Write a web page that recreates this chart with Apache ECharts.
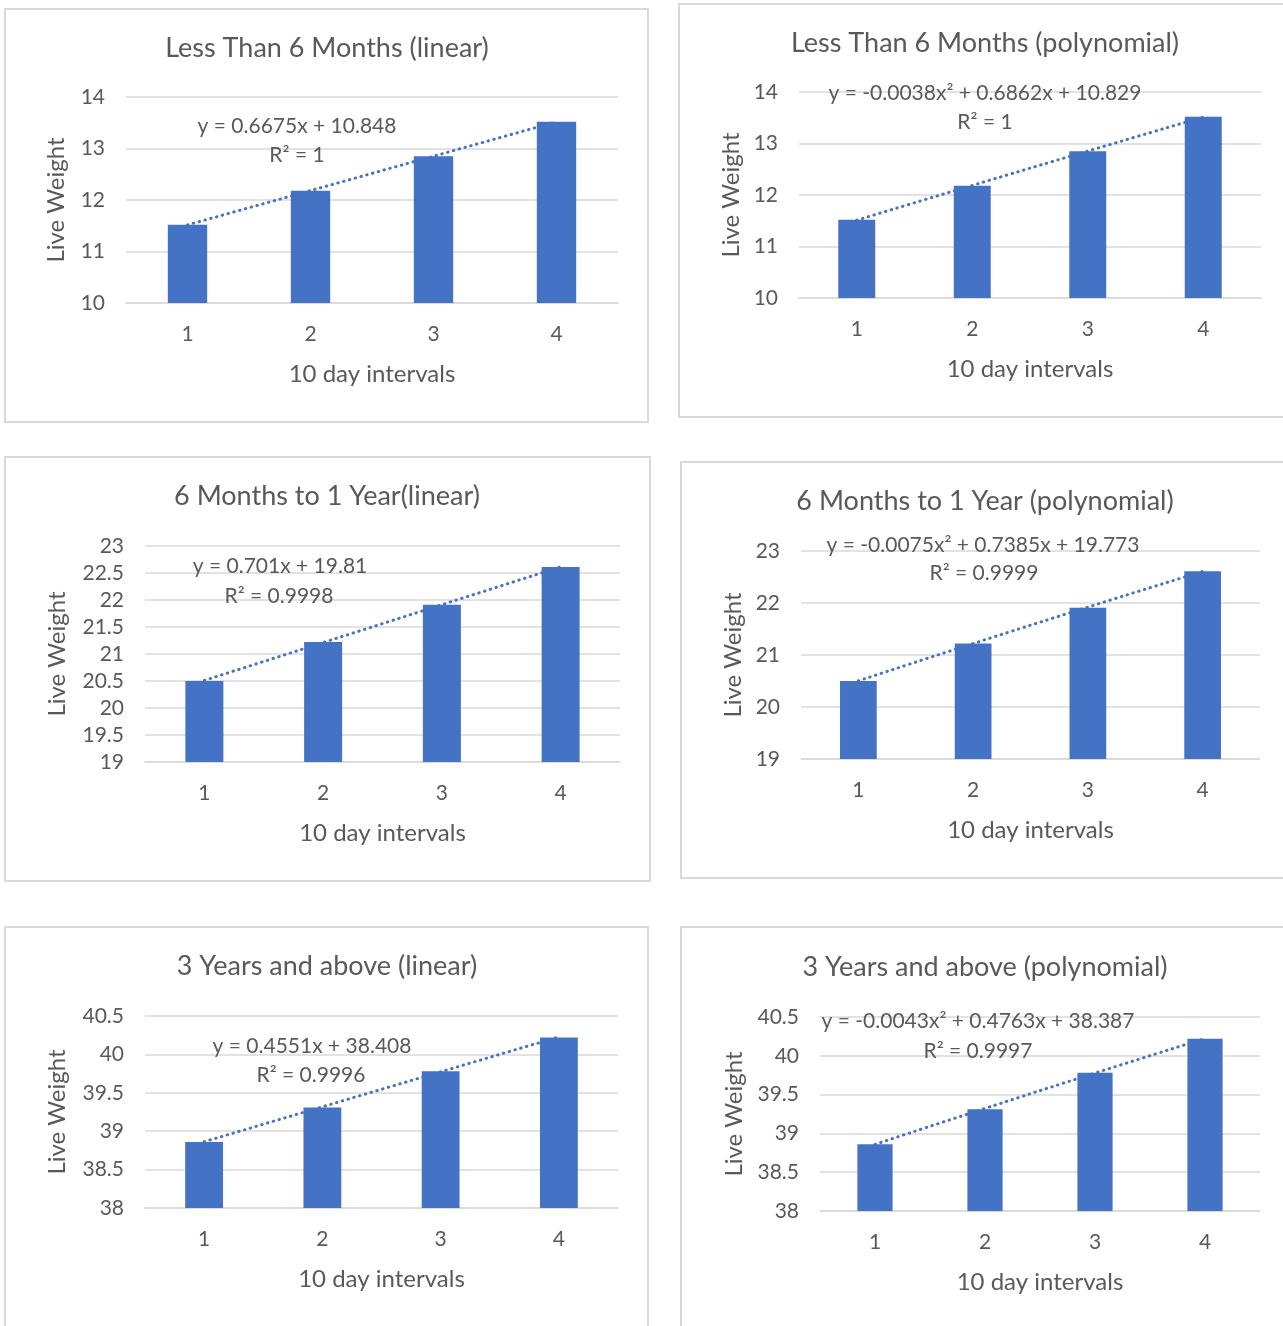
<!DOCTYPE html>
<html><head><meta charset="utf-8">
<script src="https://cdn.jsdelivr.net/npm/echarts@6/dist/echarts.min.js"></script>
<style>html,body{margin:0;padding:0;background:#fff}#c{width:1283px;height:1326px}</style>
</head><body><div id="c"></div>
<script>
// ---- data ----
const categories = ['1', '2', '3', '4'];
const lessThan6Months = [11.52, 12.18, 12.85, 13.52];
const sixMonthsTo1Year = [20.5, 21.22, 21.91, 22.61];
const threeYearsAbove = [38.86, 39.31, 39.78, 40.22];
// trendline values at x = 1..4 (read from the fitted equations shown)
const trendLess6Linear = [11.516, 12.183, 12.851, 13.518];
const trendLess6Poly = [11.511, 12.186, 12.853, 13.513];
const trendSixLinear = [20.511, 21.212, 21.913, 22.614];
const trendSixPoly = [20.504, 21.220, 21.921, 22.607];
const trendThreeLinear = [38.863, 39.318, 39.773, 40.228];
const trendThreePoly = [38.859, 39.322, 39.777, 40.223];
const titles = ['Less Than 6 Months (linear)', 'Less Than 6 Months (polynomial)', '6 Months to 1 Year(linear)', '6 Months to 1 Year (polynomial)', '3 Years and above (linear)', '3 Years and above (polynomial)'];
const equations = ['y = 0.6675x + 10.848', 'y = -0.0038x² + 0.6862x + 10.829', 'y = 0.701x + 19.81', 'y = -0.0075x² + 0.7385x + 19.773', 'y = 0.4551x + 38.408', 'y = -0.0043x² + 0.4763x + 38.387'];
const rSquared = ['R² = 1', 'R² = 1', 'R² = 0.9998', 'R² = 0.9999', 'R² = 0.9996', 'R² = 0.9997'];
const yMin = [10, 10, 19, 19, 38, 38];
const yMax = [14, 14, 23, 23, 40.5, 40.5];
const yStep = [1, 1, 0.5, 1, 0.5, 0.5];
const xAxisName = '10 day intervals';
const yAxisName = 'Live Weight';

// ---- layout ----
const barSeries = [lessThan6Months, lessThan6Months, sixMonthsTo1Year, sixMonthsTo1Year, threeYearsAbove, threeYearsAbove];
const trendSeries = [trendLess6Linear, trendLess6Poly, trendSixLinear, trendSixPoly, trendThreeLinear, trendThreePoly];
const grids = [
  {left: 126, top: 97, width: 492, height: 206},
  {left: 799, top: 92, width: 462, height: 206},
  {left: 145, top: 546, width: 475, height: 216},
  {left: 801, top: 551, width: 459, height: 208},
  {left: 145, top: 1016, width: 473, height: 192},
  {left: 820, top: 1017, width: 440, height: 194}
];
const yNameGap = [58, 56, 76, 56, 76, 74];
const boxes = [
  {x: 5, y: 9, w: 643, h: 413},
  {x: 679, y: 4, w: 620, h: 413},
  {x: 5, y: 457, w: 645, h: 424},
  {x: 681, y: 462, w: 620, h: 416},
  {x: 5, y: 927, w: 643, h: 420},
  {x: 681, y: 927, w: 620, h: 420}
];
const titlePos = [[327, 48], [985, 43], [327, 496], [985, 501], [327, 966], [985, 967]];
const eqPos = [[297, 126], [985, 93], [280, 566], [983, 545], [312, 1046], [978, 1021]];
const r2Pos = [[297, 155], [985, 122], [279, 596], [984, 573], [311, 1075], [978, 1051]];

const FONT = 'Lato';
const TXT = '#595959';
const GRIDC = '#d9d9d9';
const BLUE = '#4472c4';

const graphic = [];
boxes.forEach(b => graphic.push({type: 'rect', shape: {x: b.x, y: b.y, width: b.w, height: b.h}, style: {fill: 'none', stroke: GRIDC, lineWidth: 2}, silent: true}));
const addText = (t, p, size) => graphic.push({type: 'text', x: p[0], y: p[1], style: {text: t, fill: TXT, font: size + 'px ' + FONT, textAlign: 'center', textVerticalAlign: 'middle'}, z: 10});
titles.forEach((t, i) => addText(t, titlePos[i], 27));
equations.forEach((t, i) => addText(t, eqPos[i], 21));
rSquared.forEach((t, i) => addText(t, r2Pos[i], 21));

const xAxis = [], yAxis = [], series = [];
grids.forEach((g, i) => {
  xAxis.push({type: 'category', gridIndex: i, data: categories, name: xAxisName, nameLocation: 'middle', nameGap: 59,
    nameTextStyle: {color: TXT, fontSize: 24, fontFamily: FONT},
    axisLine: {show: true, lineStyle: {color: GRIDC, width: 1.5}}, axisTick: {show: false},
    axisLabel: {color: TXT, fontSize: 21, fontFamily: FONT, margin: 21}});
  yAxis.push({type: 'value', gridIndex: i, min: yMin[i], max: yMax[i], interval: yStep[i], name: yAxisName, nameLocation: 'middle', nameRotate: 90, nameGap: yNameGap[i],
    nameTextStyle: {color: TXT, fontSize: 24, fontFamily: FONT},
    axisLine: {show: false}, axisTick: {show: false},
    splitLine: {lineStyle: {color: GRIDC, width: 1.5}},
    axisLabel: {color: TXT, fontSize: 21, fontFamily: FONT, margin: 21}});
  series.push({type: 'bar', xAxisIndex: i, yAxisIndex: i, data: barSeries[i], barWidth: '32%', itemStyle: {color: BLUE}, silent: true});
  series.push({type: 'line', xAxisIndex: i, yAxisIndex: i, data: trendSeries[i], symbol: 'none', smooth: i % 2 === 1, z: 5,
    lineStyle: {color: BLUE, width: 3, type: [0.5, 5.5], cap: 'round'}, silent: true});
});

const chart = echarts.init(document.getElementById('c'), null, {renderer: 'canvas'});
chart.setOption({backgroundColor: '#fff', animation: false, grid: grids, xAxis, yAxis, series, graphic});
</script></body></html>
